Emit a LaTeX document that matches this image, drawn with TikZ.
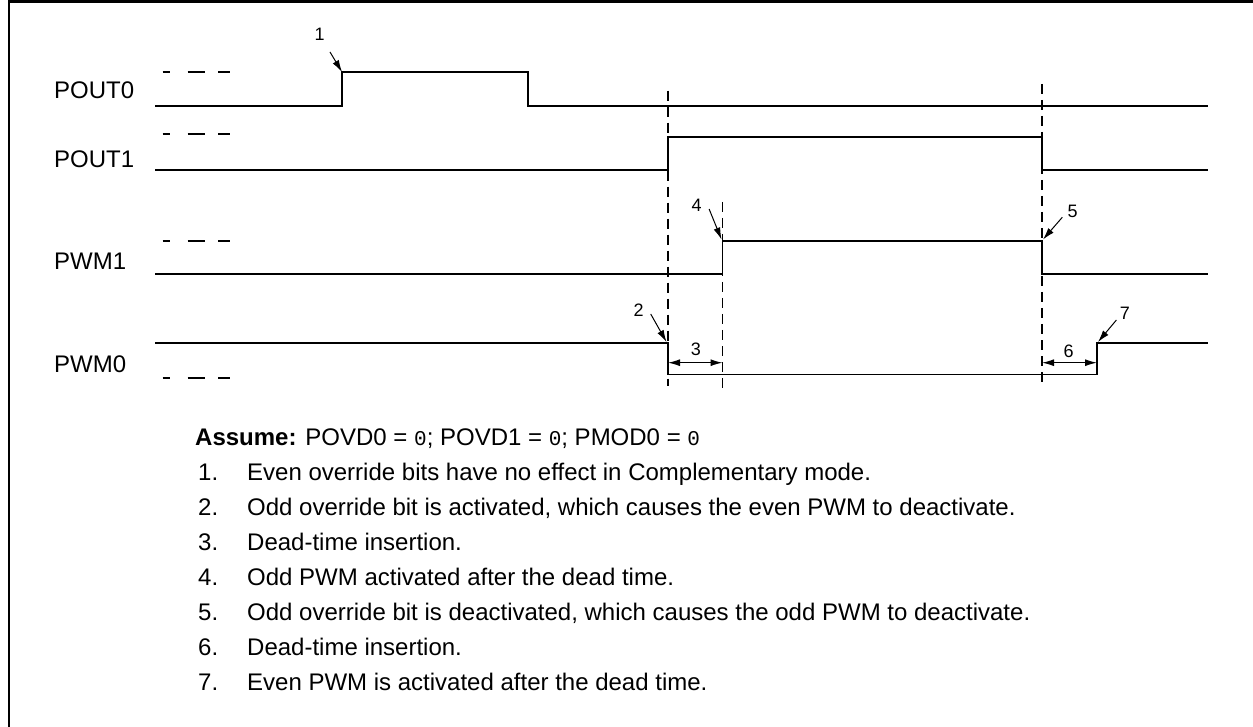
\documentclass[tikz,border=0pt]{standalone}
\usepackage{fontspec}
\setmainfont{Liberation Sans}
\newfontfamily\monofont{Liberation Mono}
\newcommand{\mzero}{{\monofont\fontsize{21}{24}\selectfont 0}}
\usetikzlibrary{arrows.meta}
\begin{document}
\begin{tikzpicture}[x=1pt,y=-1pt,
  sig/.style={line width=1.7pt, line join=miter},
  vguide/.style={line width=1.7pt, dash pattern=on 10pt off 6pt},
  lvl/.style={line width=1.7pt},
  lbl/.style={font=\fontsize{24}{28}\selectfont, anchor=west, inner sep=0pt},
  num/.style={font=\fontsize{18}{20}\selectfont, inner sep=0pt},
  callout/.style={line width=1pt, -{Latex[length=12pt,width=7pt]}},
  span/.style={line width=1.2pt, {Latex[length=12pt,width=7pt]}-{Latex[length=12pt,width=7pt]}},
  leg/.style={font=\fontsize{24}{28}\selectfont, anchor=base west, inner sep=0pt}]
\useasboundingbox (0,0) rectangle (1253,727);
% frame
\draw[line width=2.7pt] (9,727) -- (9,1.5) -- (1253,1.5);

% signal names
\node[lbl] (lp0) at (54,90.7) {POUT0};
\node[lbl] (lp1) at (54,159.5) {POUT1};
\node[lbl] (lw1) at (54,261.7) {PWM1};
\node[lbl] (lw0) at (54,364) {PWM0};

% level marks
\foreach \yy in {72,134,240.7,378}{
  \draw[lvl] (162.6,\yy) -- (170.3,\yy);
  \draw[lvl] (187.5,\yy) -- (204.7,\yy);
  \draw[lvl] (218,\yy) -- (229.6,\yy);
}

% guides
\draw[vguide] (668,90.7) -- (668,386);
\draw[vguide] (722.5,202) -- (722.5,389);
\draw[vguide] (1042,84) -- (1042,384);

% waveforms
\draw[sig] (155,106) -- (342,106) -- (342,72) -- (528,72) -- (528,106) -- (1208,106);
\draw[sig] (155,170) -- (668,170) -- (668,137.3) -- (1042,137.3) -- (1042,170) -- (1208,170);
\draw[sig] (155,274) -- (722.5,274) -- (722.5,240.7) -- (1042,240.7) -- (1042,274) -- (1208,274);
\draw[sig] (155,343) -- (668,343) -- (668,374.5) -- (1097,374.5) -- (1097,343) -- (1208,343);

% event corners
\coordinate (c1) at (342,72);
\coordinate (c2) at (666.5,342);
\coordinate (c4) at (721.5,239.5);
\coordinate (c5) at (1043,239.5);
\coordinate (c7) at (1098,342);
\coordinate (d3a) at (668,362.7);
\coordinate (d3b) at (722.5,362.7);
\coordinate (d6a) at (1042,362.7);
\coordinate (d6b) at (1097,362.7);

% callout numbers
\node[num] (n1) at (319.7,34.5) {1};
\node[num] (n2) at (638.7,310) {2};
\node[num] (n3) at (695.8,349) {3};
\node[num] (n4) at (696.6,205) {4};
\node[num] (n5) at (1072.7,211.7) {5};
\node[num] (n6) at (1068.5,351.7) {6};
\node[num] (n7) at (1124.8,313.3) {7};

\draw[callout] ([shift={(10.3,17.5)}]n1.center) -- (c1);
\draw[callout] ([shift={(12,4)}]n2.center) -- (c2);
\draw[callout] ([shift={(12.5,4)}]n4.center) -- (c4);
\draw[callout] ([shift={(-10.4,5.6)}]n5.center) -- (c5);
\draw[callout] ([shift={(-8.4,6.7)}]n7.center) -- (c7);
\draw[span] (d3a) -- (d3b);
\draw[span] (d6a) -- (d6b);

% legend
\node[leg] (assume) at (195,445) {\textbf{Assume:} POVD0 = \mzero; POVD1 = \mzero; PMOD0 = \mzero};
\foreach \i/\t in {1/{Even override bits have no effect in Complementary mode.},
                   2/{Odd override bit is activated, which causes the even PWM to deactivate.},
                   3/{Dead-time insertion.},
                   4/{Odd PWM activated after the dead time.},
                   5/{Odd override bit is deactivated, which causes the odd PWM to deactivate.},
                   6/{Dead-time insertion.},
                   7/{Even PWM is activated after the dead time.}}{
  \node[leg] (li\i) at (198,445+35*\i) {\i.};
  \node[leg] (lt\i) at (247,445+35*\i) {\t};
}
\end{tikzpicture}
\end{document}
